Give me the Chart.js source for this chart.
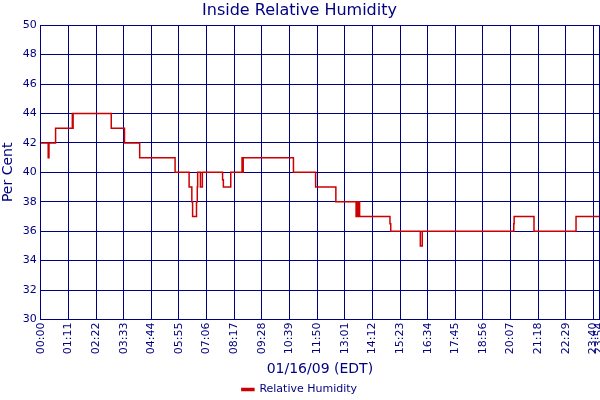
<!DOCTYPE html>
<html>
<head>
<meta charset="utf-8">
<script src="https://cdn.jsdelivr.net/npm/chart.js@4/dist/chart.umd.min.js"></script>
<style>
html,body{margin:0;padding:0;background:#fff;}
#wrap{width:600px;height:400px;}
</style>
</head>
<body>
<div id="wrap"><canvas id="c" width="600" height="400"></canvas></div>
<script>
// minutes after midnight at which the reading changes, and the new reading
const changeMinutes = [0, 19, 21, 38, 81, 82, 83, 181, 215, 254, 345, 381, 388, 390, 400, 402, 403, 410, 415, 467, 469, 488, 517, 518, 520, 649, 706, 758, 810, 812, 815, 817, 819, 897, 899, 975, 980, 1215, 1216, 1267, 1375, 1434];
const humidity      = [42, 41, 42, 43, 44, 43, 44, 43, 42, 41, 40, 39, 38, 37, 38, 39, 40, 39, 40, 39.5, 39, 40, 41, 40, 41, 40, 39, 38, 37, 38, 37, 38, 37, 36.5, 36, 35, 36, 36.5, 37, 36, 37, 37];
const tickMinutes = [0, 71, 142, 213, 284, 355, 426, 497, 568, 639, 710, 781, 852, 923, 994, 1065, 1136, 1207, 1278, 1349, 1420, 1434];
const tickLabels  = ["00:00","01:11","02:22","03:33","04:44","05:55","07:06","08:17","09:28","10:39","11:50","13:01","14:12","15:23","16:34","17:45","18:56","20:07","21:18","22:29","23:40","23:54"];
const yTicks = [30, 32, 34, 36, 38, 40, 42, 44, 46, 48, 50];

const navy = '#000080';
const red = '#cc0000';
const FONT = '"DejaVu Sans", Verdana, sans-serif';

const points = changeMinutes.map((m, i) => ({x: m, y: humidity[i]}));

new Chart(document.getElementById('c'), {
  type: 'line',
  data: {
    datasets: [{
      label: 'Relative Humidity',
      data: points,
      stepped: true,
      borderColor: red,
      backgroundColor: red,
      borderWidth: 1.5,
      pointRadius: 0,
      fill: false
    }]
  },
  options: {
    responsive: false,
    animation: false,
    layout: {padding: {left: 0, right: 1, top: 0, bottom: -5}},
    plugins: {
      title: {
        display: true,
        text: 'Inside Relative Humidity',
        color: navy,
        font: {family: FONT, size: 16, weight: 'normal'},
        padding: {top: 1, bottom: 5}
      },
      legend: {
        position: 'bottom',
        labels: {
          color: navy,
          font: {family: FONT, size: 11},
          boxWidth: 12,
          boxHeight: 2,
          padding: 2
        }
      },
      tooltip: {enabled: false}
    },
    scales: {
      x: {
        type: 'linear',
        min: 0,
        max: 1434,
        afterBuildTicks: (s) => { s.ticks = tickMinutes.map(v => ({value: v})); },
        afterFit: (s) => { s.paddingRight = 0; s.paddingLeft = 0; },
        ticks: {
          color: navy,
          font: {family: FONT, size: 11},
          minRotation: 90,
          maxRotation: 90,
          autoSkip: false,
          padding: 3,
          callback: (v) => { const i = tickMinutes.indexOf(v); return i >= 0 ? tickLabels[i] : ''; }
        },
        grid: {color: navy, lineWidth: 1, drawTicks: false},
        border: {color: navy, width: 1},
        title: {
          display: true,
          text: '01/16/09 (EDT)',
          color: navy,
          font: {family: FONT, size: 14},
          padding: {top: 4, bottom: 4}
        }
      },
      y: {
        type: 'linear',
        min: 30,
        max: 50,
        afterBuildTicks: (s) => { s.ticks = yTicks.map(v => ({value: v})); },
        ticks: {
          color: navy,
          font: {family: FONT, size: 11},
          padding: 4
        },
        grid: {color: navy, lineWidth: 1, drawTicks: false},
        border: {color: navy, width: 1},
        title: {
          display: true,
          text: 'Per Cent',
          color: navy,
          font: {family: FONT, size: 14},
          padding: {top: 0, bottom: 2}
        }
      }
    }
  }
});
</script>
</body>
</html>
